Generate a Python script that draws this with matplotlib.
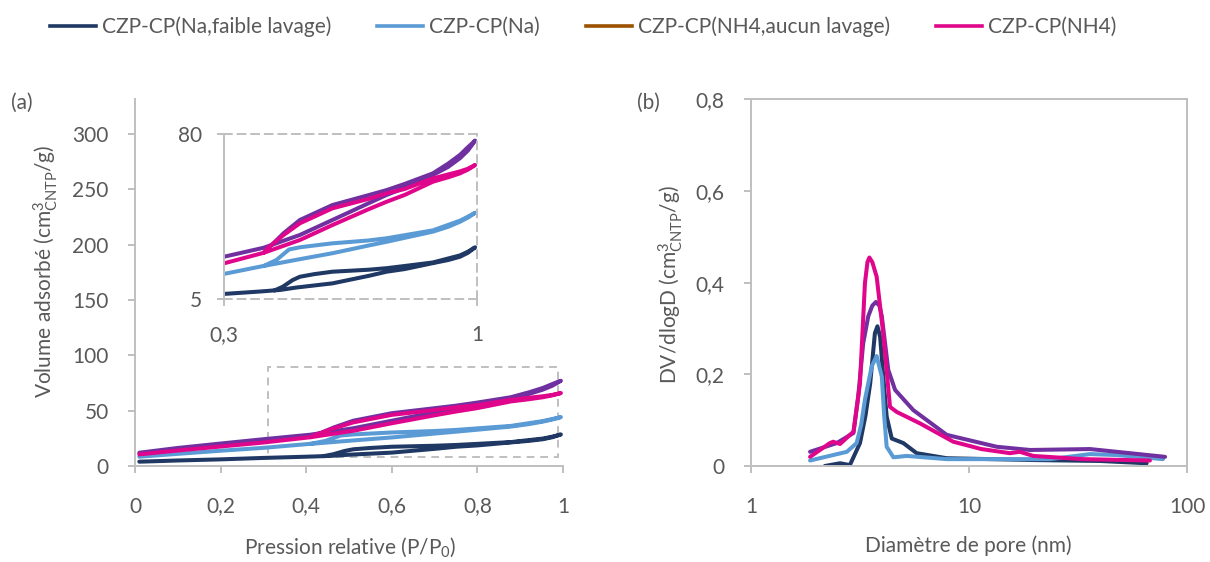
import matplotlib
matplotlib.use("Agg")
import matplotlib.pyplot as plt
from matplotlib.lines import Line2D
from matplotlib.patches import Rectangle

plt.rcParams['font.family'] = ['Lato', 'DejaVu Sans']
plt.rcParams['mathtext.fontset'] = 'custom'
plt.rcParams['mathtext.rm'] = 'Lato'
plt.rcParams['mathtext.it'] = 'Lato:italic'

# ---- data -------------------------------------------------------------
labels = ["CZP-CP(Na,faible lavage)", "CZP-CP(Na)",
          "CZP-CP(NH4,aucun lavage)", "CZP-CP(NH4)"]
legend_colors = ["#1F3864", "#5B9BD5", "#9C5200", "#E0068C"]
plot_colors = ["#1F3864", "#5B9BD5", "#7030A0", "#E0068C"]

# isotherms (a): adsorption branch then desorption branch
na_faible_ads_p = [0.01, 0.1, 0.2, 0.3, 0.4, 0.455, 0.5, 0.6, 0.7, 0.75, 0.8, 0.878, 0.92, 0.953, 0.975, 0.995]
na_faible_ads_v = [3.9, 5.0, 6.0, 7.3, 8.4, 9.1, 10.2, 12.1, 15.5, 17.4, 18.6, 21.3, 22.7, 24.2, 26.0, 28.5]
na_faible_des_p = [0.975, 0.953, 0.878, 0.8, 0.75, 0.7, 0.6, 0.55, 0.51, 0.49, 0.463, 0.44]
na_faible_des_v = [26.5, 24.8, 21.6, 20.0, 19.0, 18.3, 17.4, 16.3, 15.1, 13.6, 10.6, 8.9]

na_ads_p = [0.01, 0.1, 0.2, 0.3, 0.4, 0.5, 0.6, 0.7, 0.75, 0.8, 0.878, 0.92, 0.953, 0.975, 0.995]
na_ads_v = [8.4, 11.0, 13.8, 16.4, 19.7, 22.8, 25.8, 29.3, 31.0, 32.8, 35.6, 37.8, 40.1, 42.0, 44.2]
na_des_p = [0.975, 0.953, 0.878, 0.8, 0.75, 0.7, 0.6, 0.51, 0.48, 0.445, 0.41]
na_des_v = [42.4, 40.6, 36.2, 34.0, 32.6, 31.6, 30.3, 28.5, 27.5, 22.7, 20.0]

nh4_aucun_ads_p = [0.01, 0.1, 0.2, 0.3, 0.41, 0.51, 0.6, 0.7, 0.75, 0.8, 0.878, 0.92, 0.953, 0.975, 0.995]
nh4_aucun_ads_v = [12.0, 16.3, 20.3, 24.2, 28.3, 34.1, 40.9, 48.5, 52.3, 55.5, 61.4, 65.0, 69.0, 72.5, 77.0]
nh4_aucun_des_p = [0.975, 0.953, 0.92, 0.878, 0.8, 0.75, 0.7, 0.6, 0.51, 0.465, 0.43]
nh4_aucun_des_v = [74.0, 70.5, 66.5, 62.1, 57.3, 54.5, 52.2, 47.7, 40.9, 34.9, 29.2]

nh4_ads_p = [0.01, 0.1, 0.2, 0.3, 0.41, 0.51, 0.6, 0.7, 0.75, 0.8, 0.878, 0.92, 0.953, 0.975, 0.995]
nh4_ads_v = [10.5, 14.0, 17.6, 21.2, 26.0, 31.8, 38.6, 45.8, 49.2, 52.3, 58.3, 60.3, 62.1, 63.8, 65.9]
nh4_des_p = [0.975, 0.953, 0.878, 0.8, 0.75, 0.7, 0.6, 0.51, 0.465, 0.42, 0.41]
nh4_des_v = [64.2, 63.0, 59.8, 55.0, 53.0, 50.5, 46.2, 39.4, 34.1, 28.0, 26.0]

# pore size distributions (b)
na_faible_d = [2.18, 2.56, 2.84, 3.16, 3.35, 3.52, 3.70, 3.80, 3.91, 4.05, 4.19, 4.42, 5.0, 5.75, 7.9, 20.0, 40.0, 65.3]
na_faible_psd = [0.0, 0.006, 0.002, 0.050, 0.110, 0.180, 0.290, 0.305, 0.282, 0.190, 0.108, 0.060, 0.050, 0.028, 0.017, 0.013, 0.011, 0.006]

na_d = [1.865, 2.75, 3.05, 3.2, 3.33, 3.58, 3.77, 3.98, 4.08, 4.19, 4.50, 5.18, 7.9, 23.5, 35.9, 47.6, 77.6]
na_psd = [0.012, 0.031, 0.050, 0.090, 0.145, 0.218, 0.240, 0.195, 0.110, 0.042, 0.019, 0.022, 0.015, 0.015, 0.026, 0.024, 0.015]

nh4_aucun_d = [1.865, 2.47, 2.95, 3.1, 3.27, 3.45, 3.6, 3.74, 3.88, 3.98, 4.26, 4.58, 5.55, 7.9, 13.4, 19.05, 35.9, 47.6, 79.3]
nh4_aucun_psd = [0.031, 0.050, 0.072, 0.150, 0.268, 0.327, 0.350, 0.358, 0.350, 0.327, 0.210, 0.166, 0.122, 0.068, 0.042, 0.035, 0.037, 0.031, 0.020]

nh4_d = [1.865, 2.30, 2.38, 2.56, 2.95, 3.16, 3.33, 3.42, 3.49, 3.60, 3.77, 4.04, 4.34, 4.66, 5.96, 8.47, 11.4, 15.4, 17.1, 19.7, 33.4, 67.6]
nh4_psd = [0.020, 0.050, 0.053, 0.048, 0.075, 0.180, 0.399, 0.445, 0.455, 0.445, 0.413, 0.289, 0.129, 0.118, 0.093, 0.053, 0.037, 0.028, 0.031, 0.022, 0.015, 0.012]

iso_p = [na_faible_ads_p + na_faible_des_p, na_ads_p + na_des_p,
         nh4_aucun_ads_p + nh4_aucun_des_p, nh4_ads_p + nh4_des_p]
iso_v = [na_faible_ads_v + na_faible_des_v, na_ads_v + na_des_v,
         nh4_aucun_ads_v + nh4_aucun_des_v, nh4_ads_v + nh4_des_v]
psd_d = [na_faible_d, na_d, nh4_aucun_d, nh4_d]
psd_v = [na_faible_psd, na_psd, nh4_aucun_psd, nh4_psd]

# zoom window shown in the inset
zoom_p = (0.3, 1.0)
zoom_v = (5, 80)
box_p = (0.311, 0.988)
box_v = (8.4, 89.7)

# ---- figure -----------------------------------------------------------
grey = "#595959"
spine = "#BFBFBF"
fs = 15
lw = 2.9

fig = plt.figure(figsize=(12.1, 5.62), dpi=100)
ax1 = fig.add_axes([0.1116, 0.1708, 0.3537, 0.6522])
ax2 = fig.add_axes([0.6207, 0.1708, 0.3603, 0.6522])
axin = fig.add_axes([0.1851, 0.468, 0.2091, 0.2936])

line_kw = dict(lw=lw, solid_capstyle='round', solid_joinstyle='round')
for i in [2, 0, 1, 3]:
    ax1.plot(iso_p[i], iso_v[i], color=plot_colors[i], **line_kw)
    axin.plot(iso_p[i], iso_v[i], color=plot_colors[i], **line_kw)
for i in [0, 1, 2, 3]:
    ax2.plot(psd_d[i], psd_v[i], color=plot_colors[i], **line_kw)

# left axes
ax1.set_xlim(0, 1)
ax1.set_ylim(0, 331)
ax1.set_xticks([0, 0.2, 0.4, 0.6, 0.8, 1])
ax1.set_xticklabels(["0", "0,2", "0,4", "0,6", "0,8", "1"])
ax1.set_yticks(range(0, 301, 50))
for s in ["top", "right"]:
    ax1.spines[s].set_visible(False)
ax1.add_patch(Rectangle((box_p[0], box_v[0]), box_p[1] - box_p[0], box_v[1] - box_v[0],
                        fill=False, ls=(0, (4, 3)), lw=1.4, ec=spine, zorder=1))
ax1.set_xlabel("Pression relative (P/P$_0$)", fontsize=fs, color=grey)
ax1.set_ylabel("Volume adsorbé (cm$^3_{\\mathrm{CNTP}}$/g)", fontsize=fs, color=grey)
ax1.xaxis.set_label_coords(0.502, -0.19)
ax1.yaxis.set_label_coords(-0.175, 0.53)

# inset
axin.set_xlim(*zoom_p)
axin.set_ylim(*zoom_v)
axin.set_xticks([0.3, 1])
axin.set_xticklabels(["0,3", "1"])
axin.set_yticks([5, 80])
axin.patch.set_alpha(0)
for s in ["top", "right", "bottom"]:
    axin.spines[s].set_linestyle((0, (4, 3)))

# right axes
ax2.set_xscale("log")
ax2.set_xlim(1, 100)
ax2.set_ylim(0, 0.8)
ax2.set_xticks([1, 10, 100])
ax2.set_xticklabels(["1", "10", "100"])
ax2.minorticks_off()
ax2.set_yticks([0, 0.2, 0.4, 0.6, 0.8])
ax2.set_yticklabels(["0", "0,2", "0,4", "0,6", "0,8"])
ax2.set_xlabel("Diamètre de pore (nm)", fontsize=fs, color=grey)
ax2.set_ylabel("DV/dlogD (cm$^3_{\\mathrm{CNTP}}$/g)", fontsize=fs, color=grey)
ax2.xaxis.set_label_coords(0.498, -0.19)
ax2.yaxis.set_label_coords(-0.152, 0.495)

for ax in [ax1, ax2, axin]:
    for s in ax.spines.values():
        s.set_color(spine)
        s.set_linewidth(1.4)
    ax.tick_params(colors=spine, labelcolor=grey, labelsize=fs, length=5, width=1.4)
ax1.tick_params(axis="x", pad=17)
ax1.tick_params(axis="y", pad=14)
ax2.tick_params(axis="x", pad=17)
ax2.tick_params(axis="y", pad=14)
axin.tick_params(axis="x", pad=14)
axin.tick_params(axis="y", pad=11)

fig.text(22 / 1210, 1 - 103 / 562, "(a)", fontsize=fs, color=grey, ha="center", va="center")
fig.text(648 / 1210, 1 - 103 / 562, "(b)", fontsize=fs, color=grey, ha="center", va="center")

handles = [Line2D([], [], color=c, lw=2.6) for c in legend_colors]
fig.legend(handles, labels, loc="center", ncol=4, bbox_to_anchor=(0.482, 0.952),
           frameon=False, handlelength=2.2, handletextpad=0.3, columnspacing=2.2,
           prop={"size": fs}, labelcolor=grey)

fig.savefig("out.png", dpi=100)
